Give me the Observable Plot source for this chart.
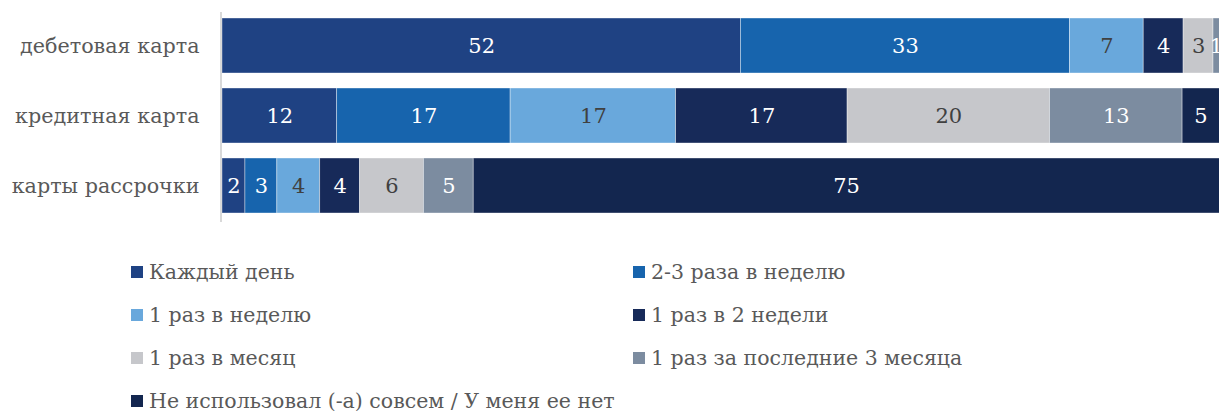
<!DOCTYPE html>
<html>
<head>
<meta charset="utf-8">
<script src="https://cdn.jsdelivr.net/npm/d3@7"></script>
<script src="https://cdn.jsdelivr.net/npm/@observablehq/plot@0.6"></script>
<style>
  html, body { margin: 0; padding: 0; background: #fff; overflow: hidden; }
  #chart svg { display: block; }
  #legend {
    display: grid;
    grid-template-columns: 502px 1fr;
    padding-left: 131px;
    margin-top: 20px;
    font-family: "DejaVu Serif", serif;
    font-size: 20.5px;
    color: #595959;
  }
  .item { height: 43px; display: flex; align-items: center; white-space: nowrap; }
  .sw { width: 12px; height: 12px; margin-right: 6px; flex: none; }
</style>
</head>
<body>
<div id="chart"></div>
<div id="legend"></div>
<script>
const categories = ["дебетовая карта", "кредитная карта", "карты рассрочки"];
const series = [
  "Каждый день",
  "2-3 раза в неделю",
  "1 раз в неделю",
  "1 раз в 2 недели",
  "1 раз в месяц",
  "1 раз за последние 3 месяца",
  "Не использовал (-а) совсем / У меня ее нет"
];
const colors = ["#1f4283", "#1764ad", "#69a8dc", "#172a59", "#c6c7cb", "#7c8ca0", "#13264f"];
const debit = [52.0, 33.0, 7.4, 4.0, 3.0, 1.0, 0];
const credit = [11.5, 17.4, 16.6, 17.2, 20.3, 13.3, 5.0];
const installment = [2.3, 3.2, 4.3, 4.0, 6.4, 5.0, 75.0];
const darkLabelSeries = ["1 раз в неделю", "1 раз в месяц"];

const valuesByCategory = [debit, credit, installment];
const rows = [];
categories.forEach((cat, ci) => {
  let acc = 0;
  valuesByCategory[ci].forEach((v, si) => {
    const x1 = acc, x2 = acc + v;
    acc = x2;
    rows.push({
      cat, series: series[si], value: v, x1, x2,
      mid: (x1 + Math.min(x2, 100)) / 2,
      label: Math.round(v),
      labelColor: darkLabelSeries.includes(series[si]) ? "#404040" : "#ffffff"
    });
  });
});

const chart = Plot.plot({
  width: 1219,
  height: 230,
  marginLeft: 222,
  marginRight: 0,
  marginTop: 2,
  marginBottom: 2,
  style: { fontFamily: "DejaVu Serif, serif", background: "#fff" },
  x: { domain: [0, 100], axis: null },
  y: { domain: categories, padding: 0.22, label: null },
  color: { domain: series, range: colors },
  marks: [
    Plot.axisY({ tickSize: 0, tickPadding: 23, fontSize: 20.7, color: "#595959", label: null }),
    Plot.barX(rows.filter(d => d.value > 0), {
      x1: "x1", x2: "x2", y: "cat", fill: "series",
      stroke: "#ffffff", strokeWidth: 0.75, strokeOpacity: 0.5,
      clip: true
    }),
    Plot.ruleX([0], { stroke: "#d9d9d9", strokeWidth: 2, dx: -1.5, insetTop: 10, insetBottom: 6 }),
    Plot.text(rows.filter(d => d.value > 0), {
      x: "mid", y: "cat", text: "label", fill: "labelColor",
      fontSize: 21, clip: true
    })
  ]
});
document.getElementById("chart").appendChild(chart);

const legend = document.getElementById("legend");
series.forEach((s, i) => {
  const item = document.createElement("div");
  item.className = "item";
  const sw = document.createElement("span");
  sw.className = "sw";
  sw.style.background = colors[i];
  const t = document.createElement("span");
  t.textContent = s;
  item.appendChild(sw);
  item.appendChild(t);
  legend.appendChild(item);
});
</script>
</body>
</html>
